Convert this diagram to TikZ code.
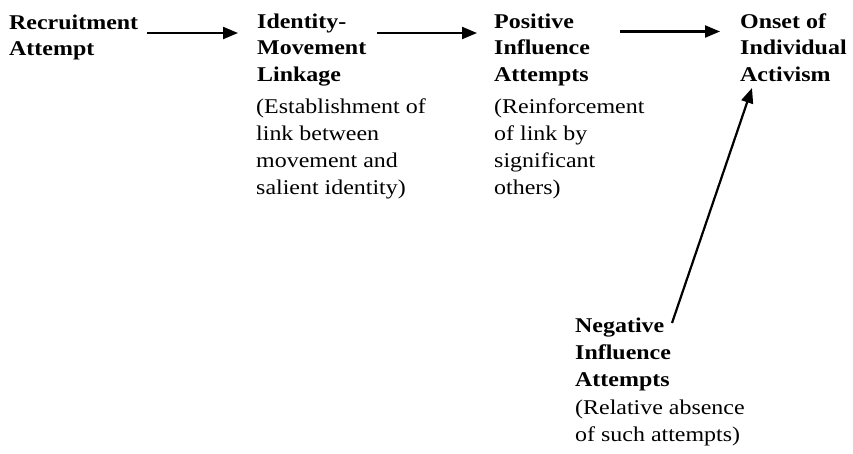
\documentclass[tikz,border=0pt]{standalone}
\usepackage{fontspec}
\setmainfont{Liberation Serif}[FakeStretch=1.14]
\usetikzlibrary{arrows.meta}
\tikzset{
  % multi-line nodes: the base anchor sits on the last line
  head/.style={anchor=base west, inner sep=0pt, align=left,
    font=\fontsize{21}{26.7}\selectfont\bfseries},
  note/.style={anchor=base west, inner sep=0pt, align=left,
    font=\fontsize{21}{26.7}\selectfont},
  flow/.style={line width=2.2pt, -{Triangle[length=15pt,width=12pt]}},
}
\begin{document}
\begin{tikzpicture}[x=1pt,y=-1pt]
  \useasboundingbox (0,0) rectangle (853,453);

  % stage headings
  \node[head] (rec) at (9,55.7)  {Recruitment\\Attempt};
  \node[head] (idm) at (257,81.4) {Identity-\\Movement\\Linkage};
  \node[head] (pos) at (494,81.4) {Positive\\Influence\\Attempts};
  \node[head] (act) at (740,81.4) {Onset of\\Individual\\Activism};
  \node[head] (neg) at (575,386)  {Negative\\Influence\\Attempts};

  % explanatory notes
  \node[note] (idmnote) at (256,194) {(Establishment of\\link between\\movement and\\salient identity)};
  \node[note] (posnote) at (494,194) {(Reinforcement\\of link by\\significant\\others)};
  \node[note] (negnote) at (575,441.5) {(Relative absence\\of such attempts)};

  % arrow end points
  \coordinate (a1s) at (147,33);  \coordinate (a1e) at (238,33);
  \coordinate (a2s) at (377,33);  \coordinate (a2e) at (477,33);
  \coordinate (a3s) at (620,31.5); \coordinate (a3e) at (720,31.5);
  \coordinate (a4s) at (672,323); \coordinate (a4e) at (752,88);

  \draw[flow] (a1s) -- (a1e);
  \draw[flow] (a2s) -- (a2e);
  \draw[flow] (a3s) -- (a3e);
  \draw[flow] (a4s) -- (a4e);
\end{tikzpicture}
\end{document}
